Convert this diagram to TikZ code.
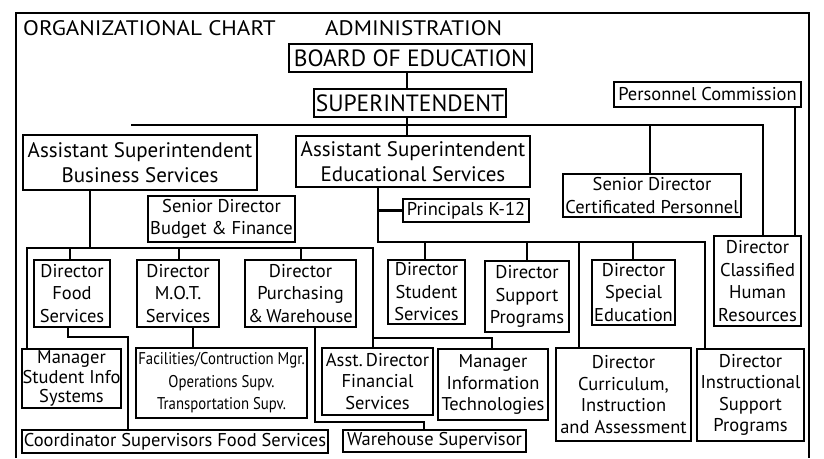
\documentclass[tikz,border=0pt]{standalone}
\usepackage{fontspec}
\setmainfont{PT Sans}
\newcommand{\cond}[1]{\scalebox{0.87}[1]{#1}}
\newcommand{\wide}[1]{\scalebox{1.1}[1]{#1}}
\begin{document}
\begin{tikzpicture}[x=1pt,y=-1pt,
  rule/.style={line width=2.8pt},
  box/.style={draw, line width=2.8pt, inner sep=0pt, align=center,
    font=\fontsize{18.5}{22.5}\selectfont},
  lowbox/.style={box, font=\fontsize{18.5}{21.5}\selectfont},
  tightbox/.style={box, font=\fontsize{18.5}{19.5}\selectfont},
  asbox/.style={box, font=\fontsize{21}{25}\selectfont},
  bigbox/.style={box, font=\fontsize{23.5}{28}\selectfont},
  heading/.style={anchor=base west, inner sep=0pt, font=\fontsize{21}{24}\selectfont},
  narrow/.style={box, font=\fontsize{17}{22.5}\selectfont}
]
\useasboundingbox (0,0) rectangle (824,458);

% outer frame, open at the foot
\draw[rule] (16,458) -- (16,13) -- (809,13) -- (809,458);

% headings
\node[heading] (title) at (23,35) {\wide{ORGANIZATIONAL CHART}};
\node[heading] (admin) at (325,35) {\wide{ADMINISTRATION}};

% top of the hierarchy
\node[bigbox, minimum width=243pt, minimum height=28pt] (board) at (410.5,58) {BOARD OF EDUCATION};
\node[bigbox, minimum width=192pt, minimum height=28pt] (supt) at (410,103) {SUPERINTENDENT};
\node[box, minimum width=187pt, minimum height=25pt] (pc) at (707.5,94.5) {Personnel Commission};

% assistant superintendents and senior directors
\node[asbox, minimum width=234pt, minimum height=55pt] (asb) at (140,162.5) {Assistant Superintendent\\Business Services};
\node[asbox, minimum width=234pt, minimum height=51pt] (ase) at (413,161.5) {Assistant Superintendent\\Educational Services};
\node[box, minimum width=178pt, minimum height=43pt] (sdc) at (652,195.5) {Senior Director\\Certificated Personnel};
\node[box, minimum width=147pt, minimum height=46pt] (sdb) at (221.5,219) {Senior Director\\Budget \& Finance};
\node[box, minimum width=126pt, minimum height=23pt] (prin) at (466,210.5) {Principals K-12};

% directors
\node[box, minimum width=76pt, minimum height=67pt] (dfood) at (72,293.5) {Director\\Food\\Services};
\node[box, minimum width=82pt, minimum height=67pt] (dmot) at (178,293.5) {Director\\M.O.T.\\Services};
\node[box, minimum width=111pt, minimum height=67pt] (dpur) at (300.5,293.5) {Director\\Purchasing\\\&\,Warehouse};
\node[box, minimum width=77pt, minimum height=64pt] (dstu) at (426.5,292) {Director\\Student\\Services};
\node[box, minimum width=84pt, minimum height=71pt] (dsup) at (527,296.5) {Director\\Support\\Programs};
\node[box, minimum width=83pt, minimum height=65pt] (dspe) at (633.5,292.5) {Director\\Special\\Education};
\node[box, minimum width=87pt, minimum height=90pt] (dchr) at (757.5,281) {Director\\Classified\\Human\\Resources};

% managers and supervisors
\node[tightbox, minimum width=99pt, minimum height=59pt] (msi) at (71.5,378.5) {Manager\\Student Info\\Systems};
\node[narrow, minimum width=171pt, minimum height=70pt] (fac) at (221.5,383)
  {\cond{Facilities/Contruction Mgr.}\\\cond{Operations Supv.}\\\cond{Transportation Supv.}};
\node[lowbox, minimum width=111pt, minimum height=67pt] (adf) at (377.5,381.5) {Asst.\,Director\\Financial\\Services};
\node[lowbox, minimum width=110pt, minimum height=71pt] (mit) at (493,384.5) {Manager\\Information\\Technologies};
\node[lowbox, minimum width=135pt, minimum height=93pt] (dcur) at (623.5,394.5) {Director\\Curriculum,\\Instruction\\and Assessment};
\node[lowbox, minimum width=107pt, minimum height=92pt] (dins) at (750.5,395) {Director\\Instructional\\Support\\Programs};
\node[box, minimum width=306pt, minimum height=23pt] (coord) at (175,441.5) {Coordinator Supervisors Food Services};
\node[box, minimum width=183pt, minimum height=22pt] (wh) at (434.5,441) {Warehouse Supervisor};

% junction points
\coordinate (spine) at (407,125);
\coordinate (hl) at (131,125);
\coordinate (hr) at (763,125);
\coordinate (sdcj) at (650,125);
\coordinate (pcj) at (795,125);
\coordinate (bj) at (90,248);
\coordinate (bl) at (27,248);
\coordinate (br) at (373,248);
\coordinate (fj) at (70,248);
\coordinate (mj) at (179,248);
\coordinate (pj) at (301,248);
\coordinate (mitj) at (373,338);
\coordinate (mitk) at (492,338);
\coordinate (f1) at (68,337);
\coordinate (f2) at (128,337);
\coordinate (mf) at (193,340);
\coordinate (w1) at (315,422);
\coordinate (w2) at (424,422);
\coordinate (ej) at (378,242);
\coordinate (er) at (705,242);
\coordinate (sj) at (425,242);
\coordinate (supj) at (527,242);
\coordinate (cj) at (579,242);
\coordinate (spj) at (633,242);

% connectors: top levels
\draw[rule] (board.south -| spine) -- (supt.north -| spine);
\draw[rule] (supt.south -| spine) -- (ase.north -| spine);
\draw[rule] (hl) -- (hr) -- (dchr.north -| hr);
\draw[rule] (sdcj) -- (sdc.north -| sdcj);
\draw[rule] (pc.south -| pcj) -- (dchr.north -| pcj);

% connectors: business services
\draw[rule] (asb.south -| bj) -- (bj);
\draw[rule] (msi.north -| bl) -- (bl) -- (br) -- (adf.north -| br);
\draw[rule] (fj) -- (dfood.north -| fj);
\draw[rule] (mj) -- (dmot.north -| mj);
\draw[rule] (pj) -- (dpur.north -| pj);
\draw[rule] (mitj) -- (mitk) -- (mit.north -| mitk);
\draw[rule] (dfood.south -| f1) -- (f1) -- (f2) -- (coord.north -| f2);
\draw[rule] (dmot.south -| mf) -- (fac.north -| mf);
\draw[rule] (dpur.south -| w1) -- (w1) -- (w2) -- (wh.north -| w2);

% connectors: educational services
\draw[rule] (ase.south -| ej) -- (ej) -- (er) -- (dins.north -| er);
\draw[rule] (ej |- prin.west) -- (prin.west);
\draw[rule] (sj) -- (dstu.north -| sj);
\draw[rule] (supj) -- (dsup.north -| supj);
\draw[rule] (spj) -- (dspe.north -| spj);
\draw[rule] (cj) -- (dcur.north -| cj);
\end{tikzpicture}
\end{document}
